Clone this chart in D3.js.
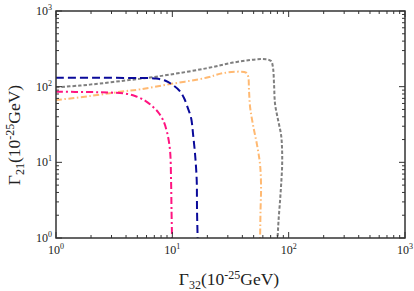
<!DOCTYPE html>
<html><head><meta charset="utf-8">
<script src="https://cdn.jsdelivr.net/npm/d3@7"></script>
<style>body{margin:0;background:#fff}svg{display:block}text{font-family:"Liberation Serif","Times New Roman",serif;fill:#222}</style>
</head><body><div id="c"></div>
<script>
const xTickExps = [0,1,2,3];
const yTickExps = [0,1,2,3];
// series: [Gamma32, Gamma21] pairs in 1e-25 GeV
const blueX = [1,2.39,5.28,7.24,8.83,10.1,11.6,12.6,13.6,14.5,15.1,15.7,16.2,16.3,16.5];
const blueY = [131,131,130,128,119,105,87.5,70.7,52.1,38.5,22.9,12.5,5.84,2.34,1];
const pinkX = [1,1.96,2.91,3.92,4.78,5.82,6.69,7.54,8.32,9.0,9.55,9.75,9.84,9.94];
const pinkY = [85.7,84.9,83.6,81.1,75.2,65.5,55.4,46.2,36.2,25.1,14.5,5.84,2.34,1];
const grayX = [1,1.61,2.39,3.92,5.94,9.55,19.5,33.3,52.5,63.9,70.6,73.4,74.9,76.4,81.1,86.1,87.8,87.8,86.1,84.4,81.9,80.3];
const grayY = [97.9,103.5,110,120.5,130,144.5,174.5,208,229.6,229.6,218,176,105,58.9,36.2,22.9,14.5,8.67,5.01,3.18,1.73,1];
const orangeX = [1,1.96,3.69,5.28,9.55,19.5,27.3,38.2,43.0,44.8,45.6,46.6,49.4,53.5,56.8,57.9,57.3,56.8];
const orangeY = [66.5,75.2,86.2,92.1,108,131,151,158,153.5,138,90.2,53.8,31.1,16.9,9.21,4.72,2.34,1];

const W=414,H=291, L=56,R=405,T=11,B=238;
const svg=d3.select("#c").append("svg").attr("width",W).attr("height",H);
const x=d3.scaleLog().domain([1,1000]).range([L,R]);
const y=d3.scaleLog().domain([1,1000]).range([B,T]);

const g=svg.append("g");
g.append("defs").append("clipPath").attr("id","cp").append("rect").attr("x",L).attr("y",T).attr("width",R-L).attr("height",B-T);

const series=[
 {xs:grayX,ys:grayY,c:"#7f7f7f",d:"3.5,2",w:2},
 {xs:orangeX,ys:orangeY,c:"#ffb972",d:"6,2.5,1.5,2.5",w:2},
 {xs:pinkX,ys:pinkY,c:"#ff1480",d:"7,3,2,3",w:2},
 {xs:blueX,ys:blueY,c:"#0a0a9a",d:"8,4",w:2},
];
const line=d3.line().x(d=>x(d[0])).y(d=>y(d[1])).curve(d3.curveCatmullRom.alpha(0.5));
series.forEach(s=>{
  g.append("path").attr("clip-path","url(#cp)")
   .attr("d",line(s.xs.map((v,i)=>[v,s.ys[i]])))
   .attr("fill","none").attr("stroke",s.c).attr("stroke-width",s.w)
   .attr("stroke-dasharray",s.d);
});

// ticks
const minorVals=[];
for(let e=0;e<3;e++) for(let k=1;k<10;k++) minorVals.push(k*Math.pow(10,e));
minorVals.push(1000);
const isMajor=v=>Math.abs(Math.log10(v)-Math.round(Math.log10(v)))<1e-9;
const tk=g.append("g").attr("stroke","#333").attr("stroke-width",1);
minorVals.forEach(v=>{
  const len=isMajor(v)?6:3;
  const px=x(v), py=y(v);
  tk.append("line").attr("x1",px).attr("x2",px).attr("y1",B).attr("y2",B-len);
  tk.append("line").attr("x1",px).attr("x2",px).attr("y1",T).attr("y2",T+len);
  tk.append("line").attr("x1",L).attr("x2",L+len).attr("y1",py).attr("y2",py);
  tk.append("line").attr("x1",R).attr("x2",R-len).attr("y1",py).attr("y2",py);
});
g.append("rect").attr("x",L).attr("y",T).attr("width",R-L).attr("height",B-T)
 .attr("fill","none").attr("stroke","#333").attr("stroke-width",1.5);

// tick labels
xTickExps.forEach(e=>{
  const t=g.append("text").attr("x",x(Math.pow(10,e))).attr("y",B+16).attr("text-anchor","middle").attr("font-size",12);
  t.append("tspan").text("10");
  t.append("tspan").attr("dy",-5).attr("font-size",8).text(e);
});
yTickExps.forEach(e=>{
  const t=g.append("text").attr("x",L-4).attr("y",y(Math.pow(10,e))+4).attr("text-anchor","end").attr("font-size",12);
  t.append("tspan").text("10");
  t.append("tspan").attr("dy",-5).attr("font-size",8).text(e);
});

// axis titles
const xt=g.append("text").attr("x",229).attr("y",285).attr("text-anchor","middle").attr("font-size",17.5);
xt.append("tspan").text("Γ");
xt.append("tspan").attr("dy",4).attr("font-size",12).text("32");
xt.append("tspan").attr("dy",-4).text("(10");
xt.append("tspan").attr("dy",-6).attr("font-size",12).text("-25");
xt.append("tspan").attr("dy",6).text("GeV)");

const yt=g.append("text").attr("transform","translate(20,135) rotate(-90)").attr("text-anchor","middle").attr("font-size",17.5);
yt.append("tspan").text("Γ");
yt.append("tspan").attr("dy",4).attr("font-size",12).text("21");
yt.append("tspan").attr("dy",-4).text("(10");
yt.append("tspan").attr("dy",-6).attr("font-size",12).text("-25");
yt.append("tspan").attr("dy",6).text("GeV)");
</script></body></html>
